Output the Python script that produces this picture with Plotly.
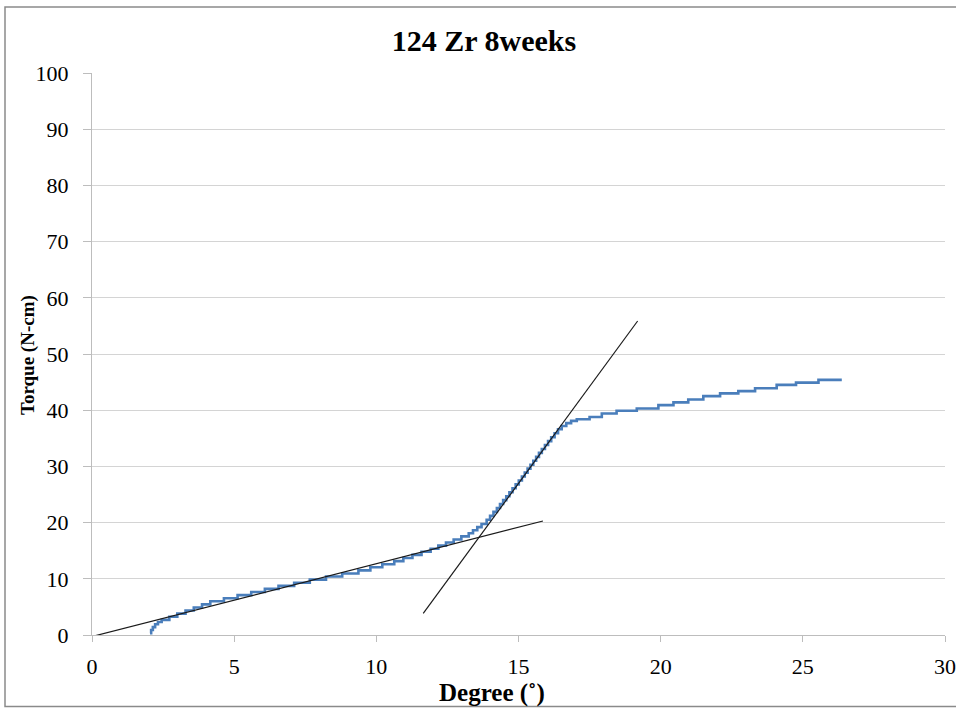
import plotly.graph_objects as go

# Torque-angle record of the implant removal test (corners of the stepped trace)
degree = [2.04, 2.08, 2.14, 2.22, 2.32, 2.45, 2.72, 3.00, 3.29, 3.58, 3.87, 4.16,
          4.64, 5.12, 5.60, 6.08, 6.56, 7.11, 7.66, 8.23, 8.80, 9.37, 9.79, 10.21,
          10.63, 10.95, 11.27, 11.59, 11.91, 12.18, 12.45, 12.72, 12.99, 13.25, 13.40,
          13.55, 13.70, 13.88, 14.00, 14.12, 14.24, 14.35, 14.46, 14.57, 14.68, 14.79,
          14.90, 15.01, 15.12, 15.22, 15.32, 15.42, 15.52, 15.62, 15.72, 15.82, 15.93,
          16.04, 16.15, 16.27, 16.39, 16.52, 16.68, 16.85, 17.05, 17.50, 17.93, 18.45,
          19.16, 19.92, 20.45, 20.97, 21.50, 22.09, 22.73, 23.32, 24.08, 24.76, 25.55,
          26.37]
torque = [0.3, 0.9, 1.4, 1.9, 2.3, 2.7, 3.25, 3.8, 4.35, 4.9, 5.45, 6.0,
          6.55, 7.1, 7.65, 8.2, 8.75, 9.3, 9.85, 10.4, 10.95, 11.5, 12.05, 12.6,
          13.15, 13.7, 14.25, 14.8, 15.35, 15.9, 16.45, 17.0, 17.55, 18.1, 18.65,
          19.2, 19.75, 20.5, 21.2, 21.9, 22.6, 23.3, 24.0, 24.7, 25.4, 26.1,
          26.8, 27.5, 28.2, 28.9, 29.6, 30.3, 31.0, 31.7, 32.4, 33.1, 33.8,
          34.5, 35.2, 35.9, 36.6, 37.2, 37.7, 38.1, 38.4, 38.8, 39.4, 39.9,
          40.3, 40.9, 41.4, 41.9, 42.5, 43.0, 43.4, 43.9, 44.5, 44.9, 45.4,
          45.4]

# Tangent to the initial (linear) region
initial_fit_x = [-0.33, 15.86]
initial_fit_y = [-0.7, 20.28]

# Tangent to the steep region
steep_fit_x = [11.65, 19.19]
steep_fit_y = [3.86, 55.87]

x_ticks = [0, 5, 10, 15, 20, 25, 30]
y_ticks = [0, 10, 20, 30, 40, 50, 60, 70, 80, 90, 100]

SERIF = "'Liberation Serif', 'Times New Roman', Times, serif"
W, H = 956, 709
L, R, T, B = 92, 11, 73, 74
plot_w = W - L - R
plot_h = H - T - B


def px_x(p):
    return (p - L) / plot_w


def px_y(p):
    return (H - B - p) / plot_h


fig = go.Figure()

fig.add_trace(go.Scatter(
    x=degree, y=torque, mode="lines",
    line=dict(color="#4a7ebb", width=2.6, shape="hv"),
    showlegend=False, hoverinfo="x+y",
))
fig.add_trace(go.Scatter(
    x=initial_fit_x, y=initial_fit_y, mode="lines",
    line=dict(color="#1a1a1a", width=1.2),
    showlegend=False,
))
fig.add_trace(go.Scatter(
    x=steep_fit_x, y=steep_fit_y, mode="lines",
    line=dict(color="#1a1a1a", width=1.2),
    showlegend=False,
))

axis_gray = "#bdbdbd"

fig.update_layout(
    template="none",
    width=W, height=H,
    margin=dict(l=L, r=R, t=T, b=B, pad=0),
    paper_bgcolor="white",
    plot_bgcolor="white",
    font=dict(family=SERIF, color="black"),
    title=dict(
        text="<b>124 Zr 8weeks</b>",
        font=dict(family=SERIF, size=30, color="black"),
        xref="container", x=484 / W, xanchor="center",
        yref="container", y=1 - 40 / H, yanchor="middle",
    ),
    xaxis=dict(
        range=[0, 30], tickvals=x_ticks, ticktext=[str(v) for v in x_ticks],
        showgrid=False, zeroline=False, automargin=False,
        showline=True, linecolor=axis_gray, linewidth=1,
        ticks="outside", ticklen=6, tickcolor=axis_gray, tickwidth=1,
        tickfont=dict(family=SERIF, size=22, color="black"),
        ticklabelstandoff=6,
    ),
    yaxis=dict(
        range=[0, 100], tickvals=y_ticks, ticktext=[str(v) for v in y_ticks],
        showgrid=True, gridcolor="#d4d4d4", gridwidth=1.2,
        zeroline=False, automargin=False,
        showline=True, linecolor=axis_gray, linewidth=1,
        ticks="outside", ticklen=8, tickcolor=axis_gray, tickwidth=1,
        tickfont=dict(family=SERIF, size=22, color="black"),
        ticklabelstandoff=10,
    ),
    annotations=[
        dict(text="<b>Degree (˚)</b>", xref="paper", yref="paper",
             x=px_x(491.5), y=px_y(693), xanchor="center", yanchor="middle",
             showarrow=False, font=dict(family=SERIF, size=25, color="black")),
        dict(text="<b>Torque (N-cm)</b>", xref="paper", yref="paper",
             x=px_x(28), y=px_y(355), xanchor="center", yanchor="middle",
             textangle=-90, showarrow=False,
             font=dict(family=SERIF, size=19, color="black")),
    ],
    shapes=[
        dict(type="rect", xref="paper", yref="paper",
             x0=px_x(5), x1=px_x(970), y0=px_y(706.5), y1=px_y(7),
             line=dict(color="#8a8a8a", width=1.5), fillcolor="rgba(0,0,0,0)",
             layer="below"),
    ],
)

fig.write_html("out.html")
